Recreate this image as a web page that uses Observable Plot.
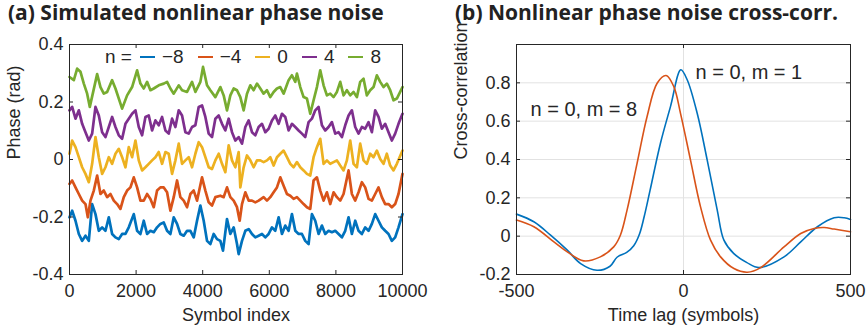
<!DOCTYPE html>
<html><head><meta charset="utf-8">
<script src="https://cdn.jsdelivr.net/npm/d3@7"></script>
<script src="https://cdn.jsdelivr.net/npm/@observablehq/plot@0.6"></script>
<style>
body{margin:0;background:#fff;}
#wrap{position:relative;width:866px;height:331px;overflow:hidden;font-family:"Liberation Sans",Arial,sans-serif;}
.title{position:absolute;top:0;font-family:"Open Sans",sans-serif;font-weight:700;font-size:21px;line-height:24px;color:#222;white-space:nowrap;}
.panel{position:absolute;top:0;}
#legend{position:absolute;left:105px;top:46px;height:22px;display:flex;align-items:center;font-size:19px;color:#262626;white-space:nowrap;}
#legend .sw{display:inline-block;width:15px;height:2px;margin:0 7px 0 8px;}
#legend .lb{margin-right:6px;}
</style></head>
<body><div id="wrap">
<div class="title" style="left:8px">(a) Simulated nonlinear phase noise</div>
<div class="title" style="left:455px">(b) Nonlinear phase noise cross-corr.</div>
<div class="panel" id="pa" style="left:0"></div>
<div class="panel" id="pb" style="left:433px"></div>
<div id="legend"></div>
</div>
<script>
// ---------- Panel (a): symbol index, phase (rad) ----------
const nm8 = [[0,-0.201],[80,-0.178],[180,-0.213],[280,-0.259],[380,-0.283],[480,-0.265],[580,-0.283],[680,-0.155],[780,-0.190],[880,-0.248],[980,-0.236],[1080,-0.248],[1180,-0.201],[1280,-0.259],[1380,-0.271],[1480,-0.277],[1580,-0.259],[1680,-0.259],[1780,-0.236],[1930,-0.190],[2030,-0.248],[2130,-0.259],[2230,-0.213],[2330,-0.259],[2430,-0.248],[2530,-0.253],[2630,-0.236],[2730,-0.224],[2830,-0.219],[2930,-0.248],[3030,-0.259],[3130,-0.201],[3230,-0.224],[3330,-0.259],[3430,-0.265],[3530,-0.248],[3630,-0.248],[3730,-0.271],[3830,-0.213],[3930,-0.160],[4030,-0.213],[4130,-0.283],[4230,-0.294],[4330,-0.259],[4430,-0.277],[4530,-0.283],[4610,-0.317],[4730,-0.207],[4830,-0.259],[4930,-0.236],[5030,-0.294],[5080,-0.329],[5180,-0.283],[5280,-0.248],[5380,-0.242],[5480,-0.259],[5580,-0.271],[5680,-0.265],[5780,-0.259],[5880,-0.271],[5980,-0.259],[6080,-0.236],[6180,-0.248],[6280,-0.201],[6380,-0.259],[6480,-0.230],[6580,-0.248],[6680,-0.190],[6780,-0.248],[6880,-0.259],[6980,-0.259],[7080,-0.283],[7180,-0.294],[7280,-0.190],[7380,-0.213],[7480,-0.259],[7580,-0.230],[7680,-0.259],[7780,-0.248],[7880,-0.253],[7980,-0.248],[8080,-0.259],[8180,-0.271],[8280,-0.248],[8380,-0.201],[8480,-0.259],[8580,-0.213],[8680,-0.248],[8780,-0.259],[8880,-0.236],[8980,-0.248],[9080,-0.224],[9180,-0.190],[9280,-0.213],[9380,-0.236],[9480,-0.248],[9580,-0.259],[9680,-0.283],[9780,-0.271],[9880,-0.236],[10000,-0.190]];
const nm4 = [[0,-0.085],[80,-0.073],[180,-0.097],[280,-0.120],[380,-0.143],[480,-0.155],[550,-0.201],[630,-0.143],[730,-0.108],[830,-0.056],[930,-0.120],[1030,-0.108],[1130,-0.131],[1230,-0.120],[1330,-0.143],[1430,-0.155],[1530,-0.172],[1630,-0.131],[1730,-0.108],[1830,-0.097],[1930,-0.062],[2030,-0.097],[2130,-0.143],[2230,-0.143],[2330,-0.120],[2430,-0.137],[2530,-0.166],[2630,-0.108],[2730,-0.097],[2830,-0.097],[2930,-0.114],[3030,-0.178],[3130,-0.131],[3230,-0.073],[3330,-0.131],[3430,-0.143],[3530,-0.166],[3630,-0.120],[3730,-0.108],[3830,-0.143],[3980,-0.062],[4080,-0.108],[4180,-0.149],[4280,-0.160],[4380,-0.131],[4530,-0.126],[4630,-0.131],[4730,-0.097],[4830,-0.131],[4930,-0.143],[5030,-0.166],[5110,-0.213],[5180,-0.155],[5280,-0.114],[5380,-0.143],[5480,-0.143],[5580,-0.149],[5680,-0.143],[5830,-0.131],[5930,-0.143],[6030,-0.131],[6130,-0.114],[6230,-0.097],[6330,-0.062],[6430,-0.091],[6530,-0.120],[6630,-0.126],[6730,-0.137],[6830,-0.131],[6930,-0.143],[7030,-0.155],[7130,-0.166],[7230,-0.172],[7330,-0.073],[7430,-0.062],[7530,-0.108],[7630,-0.143],[7730,-0.114],[7830,-0.155],[7930,-0.114],[8030,-0.131],[8130,-0.143],[8230,-0.120],[8380,-0.038],[8480,-0.120],[8580,-0.143],[8680,-0.114],[8780,-0.079],[8880,-0.097],[8980,-0.137],[9080,-0.143],[9180,-0.120],[9280,-0.097],[9380,-0.131],[9480,-0.155],[9580,-0.155],[9680,-0.166],[9780,-0.155],[9880,-0.120],[10000,-0.050]];
const n0 = [[0,0.020],[80,0.066],[180,0.043],[280,0.008],[380,-0.027],[480,-0.050],[580,-0.079],[680,-0.015],[780,0.078],[880,0.008],[980,-0.050],[1080,-0.027],[1180,0.008],[1280,-0.015],[1380,0.020],[1480,0.037],[1580,0.008],[1680,-0.027],[1780,0.043],[1880,0.008],[1980,0.066],[2080,-0.003],[2180,-0.038],[2280,-0.027],[2380,-0.015],[2480,-0.003],[2580,0.008],[2680,0.026],[2780,-0.015],[2880,0.026],[2980,0.020],[3080,-0.050],[3180,-0.003],[3280,0.055],[3380,-0.015],[3480,-0.003],[3580,0.008],[3680,-0.027],[3780,0.020],[3880,0.060],[3980,0.043],[4080,0.008],[4180,-0.027],[4280,-0.033],[4380,-0.003],[4480,0.020],[4580,-0.015],[4680,-0.044],[4780,0.049],[4880,-0.003],[4980,-0.027],[5080,0.026],[5130,-0.097],[5230,-0.027],[5330,0.014],[5430,-0.003],[5530,-0.027],[5630,-0.003],[5730,-0.003],[5830,-0.009],[5930,-0.003],[6030,0.008],[6130,-0.021],[6230,0.008],[6330,0.020],[6430,0.031],[6530,0.008],[6630,-0.015],[6730,-0.027],[6830,-0.009],[6930,-0.027],[7030,-0.038],[7130,-0.050],[7230,-0.056],[7330,0.008],[7430,0.043],[7530,0.072],[7630,-0.015],[7730,-0.003],[7830,-0.015],[7930,-0.009],[8030,-0.003],[8130,-0.021],[8230,-0.038],[8330,-0.003],[8430,0.066],[8530,-0.015],[8630,-0.027],[8730,0.055],[8830,-0.003],[8930,-0.015],[9030,0.020],[9130,0.008],[9230,0.031],[9330,0.002],[9430,-0.015],[9530,0.020],[9630,-0.021],[9730,-0.038],[9830,-0.015],[10000,0.031]];
const n4 = [[0,0.171],[80,0.183],[180,0.142],[280,0.171],[380,0.124],[480,0.095],[580,0.066],[680,0.090],[780,0.183],[880,0.153],[980,0.095],[1080,0.078],[1180,0.113],[1280,0.148],[1380,0.113],[1480,0.084],[1580,0.072],[1680,0.124],[1780,0.142],[1880,0.159],[1980,0.171],[2080,0.113],[2180,0.084],[2280,0.148],[2380,0.153],[2480,0.101],[2580,0.136],[2680,0.119],[2780,0.148],[2880,0.101],[2980,0.090],[3080,0.142],[3180,0.113],[3280,0.171],[3380,0.153],[3480,0.095],[3580,0.090],[3680,0.113],[3780,0.119],[3880,0.183],[3980,0.188],[4080,0.148],[4180,0.090],[4280,0.078],[4380,0.142],[4480,0.153],[4580,0.124],[4680,0.101],[4780,0.142],[4880,0.095],[4980,0.066],[5080,0.078],[5180,0.055],[5280,0.113],[5380,0.136],[5480,0.095],[5580,0.084],[5680,0.113],[5780,0.124],[5880,0.095],[5980,0.107],[6080,0.136],[6180,0.153],[6280,0.124],[6380,0.159],[6480,0.148],[6580,0.101],[6680,0.124],[6780,0.113],[6880,0.101],[6980,0.090],[7080,0.078],[7180,0.130],[7280,0.142],[7380,0.171],[7480,0.183],[7580,0.119],[7680,0.101],[7780,0.113],[7880,0.130],[7980,0.090],[8080,0.095],[8180,0.078],[8280,0.119],[8380,0.153],[8480,0.171],[8580,0.113],[8680,0.090],[8780,0.113],[8880,0.107],[8980,0.130],[9080,0.095],[9180,0.171],[9280,0.148],[9380,0.107],[9480,0.124],[9580,0.095],[9680,0.066],[9780,0.090],[9880,0.124],[10000,0.159]];
const n8 = [[0,0.287],[130,0.276],[230,0.316],[330,0.305],[430,0.264],[530,0.229],[610,0.183],[830,0.297],[930,0.252],[1030,0.229],[1130,0.235],[1280,0.276],[1380,0.247],[1580,0.177],[1730,0.223],[1880,0.252],[2030,0.310],[2130,0.264],[2230,0.247],[2330,0.270],[2430,0.241],[2530,0.247],[2680,0.258],[2830,0.264],[2930,0.270],[3030,0.247],[3130,0.229],[3280,0.258],[3380,0.241],[3530,0.235],[3680,0.270],[3780,0.235],[3930,0.270],[4010,0.322],[4130,0.258],[4230,0.241],[4380,0.217],[4530,0.252],[4630,0.223],[4730,0.171],[4830,0.223],[4930,0.247],[5030,0.241],[5130,0.217],[5230,0.171],[5330,0.229],[5430,0.258],[5530,0.241],[5630,0.264],[5730,0.247],[5830,0.229],[5930,0.241],[6030,0.217],[6130,0.235],[6230,0.247],[6330,0.252],[6430,0.229],[6580,0.276],[6680,0.293],[6780,0.270],[6830,0.299],[6930,0.252],[7030,0.217],[7130,0.212],[7230,0.159],[7330,0.206],[7430,0.252],[7530,0.310],[7630,0.258],[7730,0.223],[7830,0.229],[7930,0.217],[8030,0.235],[8130,0.270],[8230,0.223],[8330,0.241],[8430,0.223],[8530,0.235],[8630,0.217],[8730,0.270],[8830,0.281],[8930,0.223],[9030,0.241],[9130,0.252],[9230,0.293],[9330,0.270],[9430,0.252],[9530,0.264],[9630,0.241],[9730,0.206],[9830,0.212],[9930,0.235],[10000,0.252]];
const nLabels = ["−8", "−4", "0", "4", "8"];
const xTicksA = [0, 2000, 4000, 6000, 8000, 10000];
const yTicksA = [-0.4, -0.2, 0, 0.2, 0.4];

// ---------- Panel (b): time lag (symbols), cross-correlation ----------
const lagsM1 = [-500,-448,-398,-348,-308,-259,-220,-199,-170,-149,-132,-118,-100,-69,-39,-8,11,41,71,101,121,150,190,226,301,351,401,451,481,500];
const corrM1 = [0.115,0.075,0.005,-0.073,-0.143,-0.178,-0.157,-0.110,-0.085,-0.050,0.010,0.100,0.240,0.485,0.676,0.868,0.816,0.641,0.397,0.136,-0.021,-0.09,-0.138,-0.164,-0.108,-0.03,0.049,0.096,0.096,0.087];
const lagsM8 = [-500,-448,-388,-348,-299,-249,-209,-189,-169,-139,-109,-79,-52,-29,-9,21,51,81,111,151,191,231,301,351,391,421,451,500];
const corrM8 = [0.084,0.049,-0.03,-0.082,-0.129,-0.108,-0.056,0.005,0.136,0.38,0.624,0.798,0.838,0.78,0.641,0.397,0.153,-0.021,-0.108,-0.169,-0.188,-0.164,-0.056,0.014,0.04,0.045,0.037,0.023];
const curveLabels = ["n = 0, m = 1", "n = 0, m = 8"];
const xTicksB = [-500, 0, 500];
const yTicksB = [-0.2, 0, 0.2, 0.4, 0.6, 0.8];

// ---------- styling ----------
const seriesData = [nm8, nm4, n0, n4, n8];
const colors = ["#0072BD", "#D95319", "#EDB120", "#7E2F8E", "#77AC30"];
const ink = "#262626";
const font = "'Liberation Sans', Arial, Helvetica, sans-serif";
const W = 433, H = 331, MT = 44, MB = 57, TL = 4;
const innerH = H - MT - MB;

function frameMarks(xT, yT, innerW) {
  return [
    Plot.frame({stroke: ink, strokeWidth: 1}),
    Plot.tickX(xT, {x: d => d, insetTop: innerH - TL, stroke: ink}),
    Plot.tickX(xT, {x: d => d, insetBottom: innerH - TL, stroke: ink}),
    Plot.tickY(yT, {y: d => d, insetRight: innerW - TL, stroke: ink}),
    Plot.tickY(yT, {y: d => d, insetLeft: innerW - TL, stroke: ink}),
    Plot.axisX(xT, {tickSize: 0, tickPadding: 10, tickFormat: d => String(d), label: null, fill: ink}),
    Plot.axisY(yT, {tickSize: 0, tickPadding: 6, tickFormat: d => String(d), label: null, fill: ink})
  ];
}

const mlA = 69, mrA = 31;
const plotA = Plot.plot({
  width: W, height: H, marginLeft: mlA, marginRight: mrA, marginTop: MT, marginBottom: MB,
  x: {domain: [0, 10000]},
  y: {domain: [-0.4, 0.4]},
  style: {fontFamily: font, fontSize: "18px", color: ink, background: "transparent", overflow: "visible"},
  marks: [
    ...seriesData.map((s, i) => Plot.line(s, {x: p => p[0], y: p => p[1], stroke: colors[i], strokeWidth: 2.7, strokeLinejoin: "round"})),
    ...frameMarks(xTicksA, yTicksA, W - mlA - mrA),
    Plot.text(["Symbol index"], {text: d => d, frameAnchor: "bottom", dy: 41, lineAnchor: "middle", fill: ink, fontSize: 18}),
    Plot.text(["Phase (rad)"], {text: d => d, frameAnchor: "left", dx: -55, rotate: -90, lineAnchor: "middle", fill: ink, fontSize: 18})
  ]
});
document.getElementById("pa").appendChild(plotA);

const mlB = 83, mrB = 16;
const rowsM1 = lagsM1.map((l, i) => ({lag: l, r: corrM1[i]}));
const rowsM8 = lagsM8.map((l, i) => ({lag: l, r: corrM8[i]}));
const plotB = Plot.plot({
  width: W, height: H, marginLeft: mlB, marginRight: mrB, marginTop: MT, marginBottom: MB,
  x: {domain: [-500, 500]},
  y: {domain: [-0.2, 1.0]},
  style: {fontFamily: font, fontSize: "18px", color: ink, background: "transparent", overflow: "visible"},
  marks: [
    Plot.gridY(yTicksB, {stroke: "#e2e2e2", strokeOpacity: 1}),
    Plot.gridX(xTicksB, {stroke: "#e2e2e2", strokeOpacity: 1}),
    Plot.line(rowsM1, {x: "lag", y: "r", stroke: colors[0], strokeWidth: 1.6, curve: "catmull-rom"}),
    Plot.line(rowsM8, {x: "lag", y: "r", stroke: colors[1], strokeWidth: 1.6, curve: "catmull-rom"}),
    ...frameMarks(xTicksB, yTicksB, W - mlB - mrB),
    Plot.text([curveLabels[0]], {text: d => d, frameAnchor: "top-left", dx: 179, dy: 28, lineAnchor: "middle", textAnchor: "start", fill: ink, fontSize: 20}),
    Plot.text([curveLabels[1]], {text: d => d, frameAnchor: "top-left", dx: 14, dy: 65, lineAnchor: "middle", textAnchor: "start", fill: ink, fontSize: 20}),
    Plot.text(["Time lag (symbols)"], {text: d => d, frameAnchor: "bottom", dy: 41, lineAnchor: "middle", fill: ink, fontSize: 18}),
    Plot.text(["Cross-correlation"], {text: d => d, frameAnchor: "left", dx: -55, rotate: -90, lineAnchor: "middle", fill: ink, fontSize: 18})
  ]
});
document.getElementById("pb").appendChild(plotB);

// legend for panel (a)
const lg = document.getElementById("legend");
lg.innerHTML = '<span>n =</span>' + nLabels.map((t, i) =>
  `<span class="sw" style="background:${colors[i]}"></span><span class="lb">${t}</span>`).join("");
</script>
</body></html>
